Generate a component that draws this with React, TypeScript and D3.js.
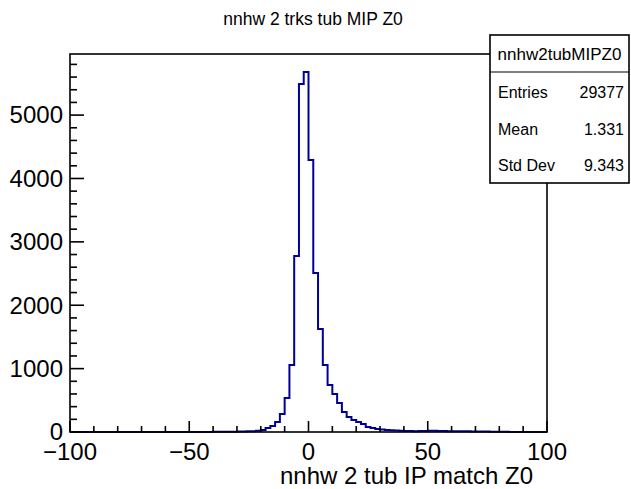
import * as d3 from "d3"
import { useEffect } from "react"

// histogram content, 100 bins of width 2 from -100 to 100
const binEdges = d3.range(-100, 101, 2)
const counts = [
	0, 0, 0, 0, 0, 0, 0, 0, 0, 0,
	0, 0, 0, 0, 0, 0, 0, 0, 0, 0,
	0, 0, 0, 0, 0, 0, 0, 0, 1, 1,
	2, 2, 3, 4, 5, 6, 8, 10, 13, 18,
	32, 63, 95, 158, 284, 536, 1057, 2776, 5490, 5680,
	4290, 2508, 1625, 1057, 741, 600, 457, 315, 237, 189,
	158, 126, 79, 63, 47, 38, 32, 27, 22, 20,
	17, 15, 13, 14, 16, 18, 20, 17, 15, 12,
	11, 10, 11, 10, 9, 8, 7, 6, 5, 5,
	3, 2, 0, 0, 0, 0, 0, 0, 0, 0,
]

const xTicks = [-100, -50, 0, 50, 100]
const yTicks = [0, 1000, 2000, 3000, 4000, 5000]

const title = "nnhw 2 trks tub MIP Z0"
const xTitle = "nnhw 2 tub IP match Z0"
const statsName = "nnhw2tubMIPZ0"
const statsRows = [["Entries", "29377"], ["Mean", "1.331"], ["Std Dev", "9.343"]]

const W = 631
const H = 489
const frame = { left: 70, right: 547, top: 54, bottom: 432 }
const font = "'Liberation Sans', Arial, Helvetica, sans-serif"

export default function App() {

	useEffect(() => {
		document.body.style.margin = "0"
	}, [])

	const x = d3.scaleLinear().domain([-100, 100]).range([frame.left, frame.right])
	const yMax = d3.max(counts) * 1.05
	const y = d3.scaleLinear().domain([0, yMax]).range([frame.bottom, frame.top])

	// step outline of the histogram
	const pts = [[binEdges[0], 0], ...counts.map((c, i) => [binEdges[i], c]), [binEdges[100], counts[99]], [binEdges[100], 0]]
	const path = d3.line().x(d => x(d[0])).y(d => y(d[1])).curve(d3.curveStepAfter)(pts)

	const xMinor = d3.range(-100, 101, 10).filter(v => !xTicks.includes(v))
	const yMinor = d3.range(0, yMax, 200).filter(v => !yTicks.includes(v))
	const fmt = d3.format("d")

	const box = { x: 490, y: 35, w: 139, h: 148, split: 72 }

	return (
		<svg width={W} height={H} style={{ display: "block", fontFamily: font }}>
			<rect width={W} height={H} fill="white" />

			{/* title */}
			<text x={313} y={25} fontSize={17.5} textAnchor="middle">{title}</text>

			{/* histogram */}
			<path d={path} fill="none" stroke="#000099" strokeWidth={2} />

			{/* frame */}
			<rect x={frame.left} y={frame.top} width={frame.right - frame.left} height={frame.bottom - frame.top}
				fill="none" stroke="black" strokeWidth={1.6} />

			{/* x ticks */}
			{xTicks.map(v => (
				<line key={"xt" + v} x1={x(v)} x2={x(v)} y1={frame.bottom} y2={frame.bottom - 11} stroke="black" strokeWidth={1.6} />
			))}
			{xMinor.map(v => (
				<line key={"xm" + v} x1={x(v)} x2={x(v)} y1={frame.bottom} y2={frame.bottom - 6} stroke="black" strokeWidth={1.6} />
			))}
			{xTicks.map(v => (
				<text key={"xl" + v} x={x(v)} y={460} fontSize={24} textAnchor="middle">{fmt(v)}</text>
			))}
			<text x={533} y={484} fontSize={24} textAnchor="end">{xTitle}</text>

			{/* y ticks */}
			{yTicks.map(v => (
				<line key={"yt" + v} x1={frame.left} x2={frame.left + 14} y1={y(v)} y2={y(v)} stroke="black" strokeWidth={1.6} />
			))}
			{yMinor.map(v => (
				<line key={"ym" + v} x1={frame.left} x2={frame.left + 7} y1={y(v)} y2={y(v)} stroke="black" strokeWidth={1.6} />
			))}
			{yTicks.map(v => (
				<text key={"yl" + v} x={63} y={y(v)} dy="0.35em" fontSize={24} textAnchor="end">{fmt(v)}</text>
			))}

			{/* stats box */}
			<rect x={box.x} y={box.y} width={box.w} height={box.h} fill="white" stroke="black" strokeWidth={1.6} />
			<line x1={box.x} x2={box.x + box.w} y1={box.split} y2={box.split} stroke="black" strokeWidth={1.2} />
			<text x={box.x + box.w / 2} y={60} fontSize={17} textAnchor="middle">{statsName}</text>
			{statsRows.map((r, i) => (
				<g key={r[0]}>
					<text x={box.x + 8} y={98 + i * 36.5} fontSize={16}>{r[0]}</text>
					<text x={box.x + box.w - 5} y={98 + i * 36.5} fontSize={16} textAnchor="end">{r[1]}</text>
				</g>
			))}
		</svg>
	)
}
